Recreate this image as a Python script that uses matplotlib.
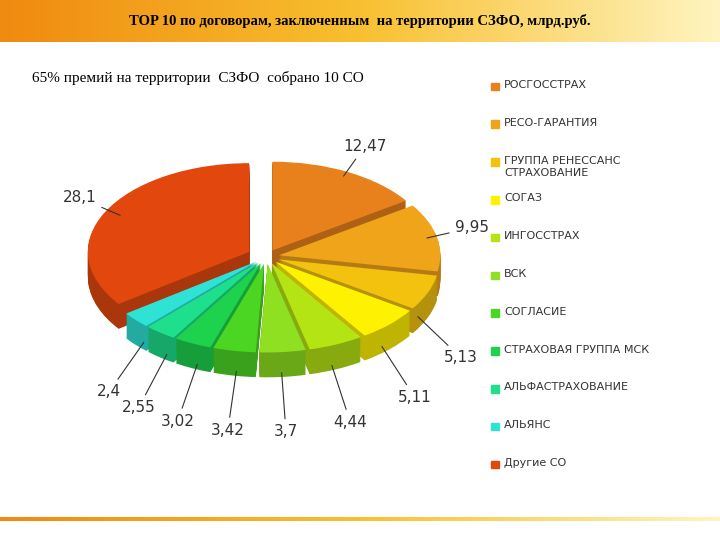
import numpy as np
import matplotlib.pyplot as plt
import matplotlib.colors as mcolors

title = "TOP 10 по договорам, заключенным  на территории СЗФО, млрд.руб."
subtitle = "65% премий на территории  СЗФО  собрано 10 СО"
companies = ["РОСГОССТРАХ", "РЕСО-ГАРАНТИЯ", "ГРУППА РЕНЕССАНС\nСТРАХОВАНИЕ", "СОГАЗ",
             "ИНГОССТРАХ", "ВСК", "СОГЛАСИЕ", "СТРАХОВАЯ ГРУППА МСК",
             "АЛЬФАСТРАХОВАНИЕ", "АЛЬЯНС", "Другие СО"]
values = [12.47, 9.95, 5.13, 5.11, 4.44, 3.7, 3.42, 3.02, 2.55, 2.4, 28.1]
labels = ["12,47", "9,95", "5,13", "5,11", "4,44", "3,7", "3,42", "3,02", "2,55", "2,4", "28,1"]
colors = ["#E8801C", "#F0A41A", "#F2C20E", "#FFF200", "#B4E414", "#8EE020",
          "#4CD624", "#1ED24E", "#1EE08C", "#2EE2D6", "#E2480E"]

fig = plt.figure(figsize=(7.2, 5.4), dpi=100)

# title band with gradient
band = fig.add_axes([0, 0.922, 1, 0.078])
grad = np.linspace(0, 1, 256).reshape(1, -1)
cmap = mcolors.LinearSegmentedColormap.from_list("b", ["#F08A10", "#F8C030", "#FFF4C0"])
band.imshow(grad, aspect="auto", cmap=cmap, extent=[0, 1, 0, 1])
band.axis("off")
band.text(0.5, 0.5, title, ha="center", va="center", fontsize=10.5, fontweight="bold",
          family="Liberation Serif")
bottom = fig.add_axes([0, 0.035, 1, 0.008])
bottom.imshow(grad, aspect="auto", cmap=cmap, extent=[0, 1, 0, 1])
bottom.axis("off")

fig.text(0.045, 0.855, subtitle, fontsize=11, family="Liberation Serif", va="center")

ax = fig.add_axes([0.09, 0.2, 0.56, 0.6])
explode = [0.08] * len(values)
explode[-1] = 0.12
depth = 0.28
dark = [tuple(c * 0.75 for c in mcolors.to_rgb(col)) for col in colors]
for dy in np.linspace(depth, 0.01, 25):
    ax.pie(values, colors=dark, startangle=90, counterclock=False, explode=explode,
           center=(0, -dy), wedgeprops=dict(linewidth=0))
wedges, _ = ax.pie(values, colors=colors, startangle=90, counterclock=False,
                   explode=explode, wedgeprops=dict(linewidth=0))
ax.set_xlim(-1.25, 1.25)
ax.set_ylim(-1.6, 1.3)
ax.set_aspect(0.55)
ax.axis("off")

for w, lab in zip(wedges, labels):
    ang = np.deg2rad((w.theta1 + w.theta2) / 2)
    x, y = np.cos(ang), np.sin(ang)
    ey = y - (depth if y < 0 else 0)
    tx, ty = 1.3 * x, 1.35 * y - (depth + 0.35 if y < 0 else -0.05)
    ax.annotate(lab, xy=(1.0 * x, ey), xytext=(tx, ty), fontsize=11, color="#333333",
                ha="center", va="center", family="DejaVu Sans",
                arrowprops=dict(arrowstyle="-", color="#333333", lw=0.8))

# legend
for i, (name, col) in enumerate(zip(companies, colors)):
    y = 0.84 - i * 0.07
    fig.patches.append(plt.Rectangle((0.682, y - 0.007), 0.011, 0.014, color=col,
                                     transform=fig.transFigure))
    fig.text(0.7, y + 0.012, name, fontsize=8, color="#333333", va="top",
             linespacing=1.3)

fig.savefig("out.png", dpi=100)
